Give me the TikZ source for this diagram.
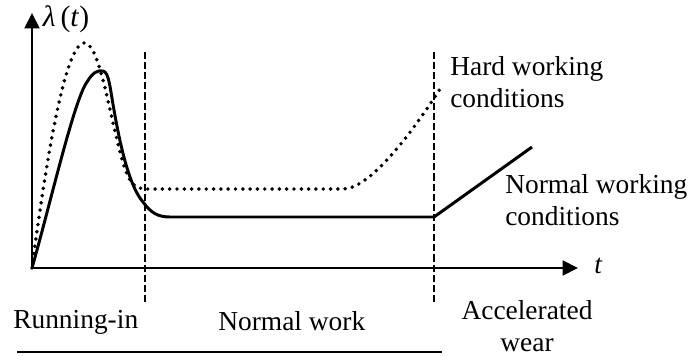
\documentclass[tikz,border=0pt]{standalone}
\usepackage{fontspec}
\setmainfont{Liberation Serif}
\usepackage{tikz}
\usetikzlibrary{arrows.meta, positioning}

\begin{document}
\begin{tikzpicture}[x=0.025cm, y=-0.025cm,
    axisline/.style={line width=2.1pt, -{Triangle[length=11pt, width=10.5pt]}},
    normalcurve/.style={line width=2.1pt, line join=round},
    hardcurve/.style={line width=2.8pt, line cap=round, dash pattern=on 0pt off 5.2pt},
    phaseline/.style={line width=1pt, dash pattern=on 5pt off 2.2pt},
    lbl/.style={font=\fontsize{19.5}{22.5}\selectfont, inner sep=0pt}]
  \useasboundingbox (0,0) rectangle (690,355);

  % axes
  \coordinate (O) at (32,268);
  \coordinate (ytop) at (32,13);
  \coordinate (xend) at (578,268);
  \draw[axisline] (O) -- (ytop);
  \draw[axisline] (O) -- (xend);
  \node[lbl, font=\fontsize{21}{22}\selectfont] (lam) at (66,19) {\textit{λ}\,(\textit{t})};
  \node[lbl, anchor=west] (tlbl) at (594,266) {\textit{t}};

  % phase boundaries
  \coordinate (b1top) at (145,52);
  \coordinate (b1bot) at (145,303);
  \coordinate (b2top) at (434,52);
  \coordinate (b2bot) at (434,303);
  \draw[phaseline] (b1top) -- (b1bot);
  \draw[phaseline] (b2top) -- (b2bot);

  % hard working conditions
  \draw[hardcurve] (O) .. controls (45,170) and (64,45) .. (84,43)
    .. controls (100,42) and (110,120) .. (124,166)
    .. controls (130,184) and (135,189) .. (147,189) -- (343,189)
    .. controls (366,189) and (402,148) .. (440,89);

  % normal working conditions
  \draw[normalcurve] (O) .. controls (50,205) and (74,100) .. (87,82)
    .. controls (93,72) and (98,70) .. (103,71)
    .. controls (109,72) and (110,88) .. (114,110)
    .. controls (121,150) and (130,187) .. (143,202)
    .. controls (151,213) and (158,217) .. (170,217) -- (434,217) -- (532,147);

  % labels
  \node[lbl, anchor=west, align=left] (hard) at (450,82) {Hard working\\conditions};
  \node[lbl, anchor=west, align=left] (norm) at (505,200) {Normal working\\conditions};
  \node[lbl, anchor=west] (run) at (13,322) {Running-in};
  \node[lbl, anchor=west] (work) at (218,321) {Normal work};
  \node[lbl, align=center] (wear) at (527,326) {Accelerated\\wear};

  % underline
  \coordinate (ul) at (17,352);
  \coordinate (ur) at (442,352);
  \draw[line width=1.4pt] (ul) -- (ur);
\end{tikzpicture}
\end{document}
